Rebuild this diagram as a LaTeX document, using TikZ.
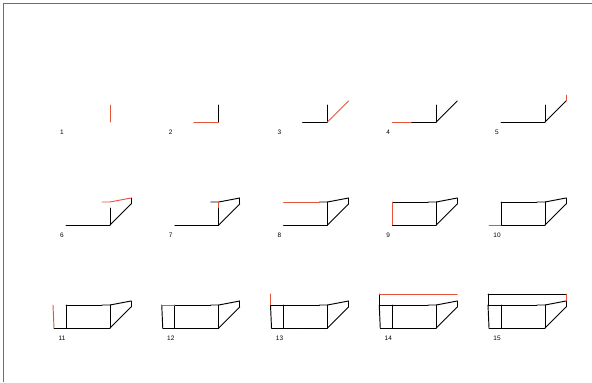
\documentclass[tikz,border=0pt]{standalone}
\usepackage{fontspec}
\setsansfont{Liberation Sans}
\definecolor{frameink}{RGB}{110,110,110}
\definecolor{newink}{RGB}{228,84,56}
\tikzset{
  ink/.style={draw=black,line width=0.95bp,line cap=round,line join=round},
  freshink/.style={draw=newink,line width=0.95bp,line cap=round,line join=round},
  steplabel/.style={font=\sffamily\fontsize{6.5}{7}\selectfont,inner sep=0pt}
}
% draw stroke #1 of the sequence: black once it is old, red when it is the newest one
\newcommand\pstroke[2]{%
  \ifnum#1<\k\relax\draw[ink] #2;\else\ifnum#1=\k\relax\draw[freshink] #2;\fi\fi}
\begin{document}
\begin{tikzpicture}[x=1bp,y=1bp]
\useasboundingbox (0,0) rectangle (592,382);
% frame
\coordinate (fa) at (3,0);
\coordinate (fb) at (3,378);
\coordinate (fc) at (592,378);
\draw[frameink,line width=1bp] (fa) -- (fb) -- (fc);
\foreach \k in {1,...,15}{
  \pgfmathtruncatemacro\col{mod(\k-1,5)}
  \pgfmathtruncatemacro\row{div(\k-1,5)}
  \begin{scope}[shift={({110+108.75*\col},{382-122-103*\row})}]
    \coordinate (C) at (0,0);
    \coordinate (V1) at (0,17);
    \coordinate (V2) at (0,23);
    \coordinate (B1) at (-25,0);
    \coordinate (B2) at (-44,0);
    \coordinate (B3) at (-56,0);
    \coordinate (D) at (21,21);
    \coordinate (E) at (21,27);
    \coordinate (T1) at (-8,23);
    \coordinate (T2) at (-44,23);
    \coordinate (T3) at (-57,23);
    \coordinate (U3) at (-57,34);
    \coordinate (U4) at (21,34);
    \pstroke{1}{(C) -- (V1)}
    \pstroke{2}{(B1) -- (C)}
    \pstroke{3}{(C) -- (D)}
    \pstroke{4}{(B2) -- (B1)}
    \pstroke{5}{(D) -- (E)}
    \pstroke{6}{(T1) -- (V2) -- (E)}
    \pstroke{7}{(V1) -- (V2)}
    \pstroke{8}{(T2) -- (T1)}
    \pstroke{9}{(B2) -- (T2)}
    \pstroke{10}{(B3) -- (B2)}
    \pstroke{11}{(B3) -- (T3)}
    \pstroke{12}{(T3) -- (T2)}
    \pstroke{13}{(T3) -- (U3)}
    \pstroke{14}{(U3) -- (U4)}
    \pstroke{15}{(U4) -- (E)}
    \node[steplabel] (lab) at (-48,-10) {\k};
  \end{scope}
}
\end{tikzpicture}
\end{document}
